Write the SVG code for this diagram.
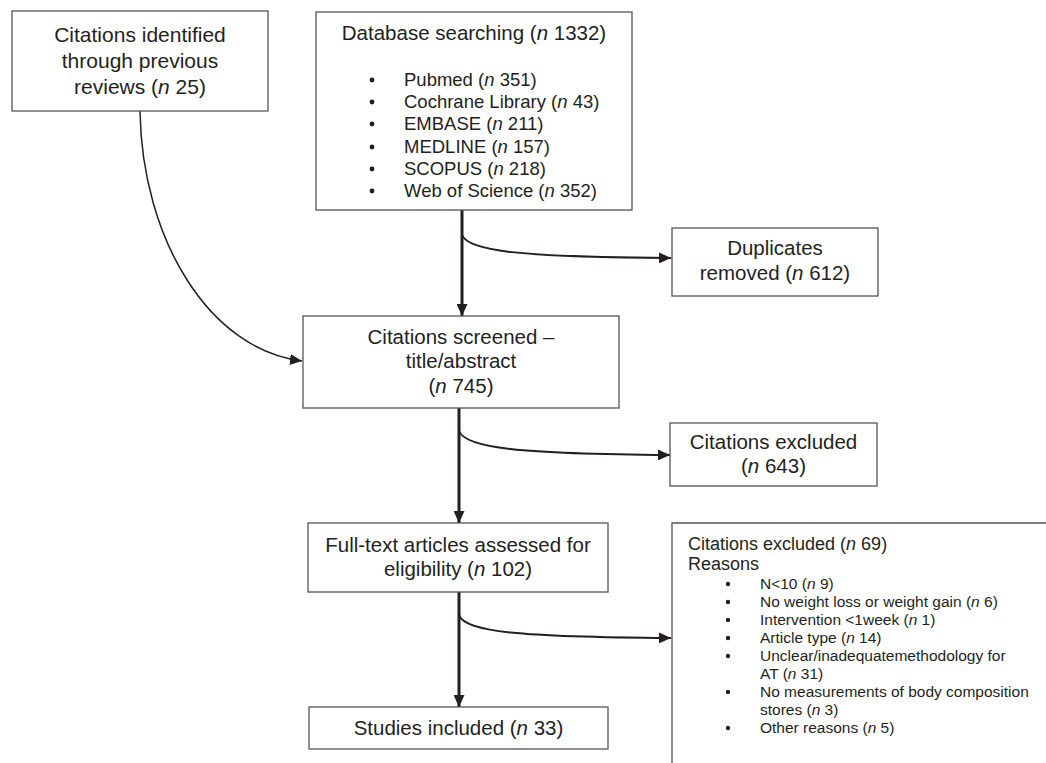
<svg xmlns="http://www.w3.org/2000/svg" width="1046" height="763" viewBox="0 0 1046 763">
<style>
.box{fill:#fff;stroke:#555;stroke-width:1.3}
.t{font-family:"Liberation Sans",Arial,sans-serif;font-size:20.5px;fill:#231f20;text-anchor:middle}
.h{font-family:"Liberation Sans",Arial,sans-serif;font-size:18.5px;fill:#231f20}
.s{font-family:"Liberation Sans",Arial,sans-serif;font-size:15.5px;fill:#231f20}
.i{font-style:italic}
.main{fill:none;stroke:#231f20;stroke-width:3}
.br{fill:none;stroke:#231f20;stroke-width:2}
.thin{fill:none;stroke:#231f20;stroke-width:1.5}
.dot{fill:#231f20}
</style>
<defs>
<marker id="ah" markerUnits="userSpaceOnUse" markerWidth="13" markerHeight="11" refX="12" refY="5.5" orient="auto">
<path d="M0,0 L12,5.5 L0,11 Z" fill="#231f20"/>
</marker>
</defs>
<rect width="1046" height="763" fill="#fff"/>

<g id="connectors">
<path class="thin" d="M140,111 C142,240 210,350 302,361" marker-end="url(#ah)"/>
<path class="main" d="M462,210 V316" marker-end="url(#ah)"/>
<path class="br" d="M462,235 C468,251 520,257 671,258" marker-end="url(#ah)"/>
<path class="main" d="M459,408 V523" marker-end="url(#ah)"/>
<path class="br" d="M459,431 C465,448 520,454 670,455" marker-end="url(#ah)"/>
<path class="main" d="M459,592 V707" marker-end="url(#ah)"/>
<path class="br" d="M459,615 C465,632 520,637 671,638" marker-end="url(#ah)"/>
</g>

<g id="previous">
<rect class="box" x="12" y="11" width="256" height="100"/>
<text class="t" x="140" y="42" style="font-size:21px">Citations identified</text>
<text class="t" x="140" y="68" style="font-size:21px">through previous</text>
<text class="t" x="140" y="94" style="font-size:21px">reviews (<tspan class="i">n</tspan> 25)</text>
</g>

<g id="database">
<rect class="box" x="316" y="12" width="316" height="198"/>
<text class="t" x="474" y="40">Database searching (<tspan class="i">n</tspan> 1332)</text>
<circle class="dot" cx="372" cy="80" r="2.4"/>
<circle class="dot" cx="372" cy="102" r="2.4"/>
<circle class="dot" cx="372" cy="124" r="2.4"/>
<circle class="dot" cx="372" cy="147" r="2.4"/>
<circle class="dot" cx="372" cy="169" r="2.4"/>
<circle class="dot" cx="372" cy="191" r="2.4"/>
<text class="h" x="404" y="86">Pubmed (<tspan class="i">n</tspan> 351)</text>
<text class="h" x="404" y="108">Cochrane Library (<tspan class="i">n</tspan> 43)</text>
<text class="h" x="404" y="130">EMBASE (<tspan class="i">n</tspan> 211)</text>
<text class="h" x="404" y="153">MEDLINE (<tspan class="i">n</tspan> 157)</text>
<text class="h" x="404" y="175">SCOPUS (<tspan class="i">n</tspan> 218)</text>
<text class="h" x="404" y="197">Web of Science (<tspan class="i">n</tspan> 352)</text>
</g>

<g id="duplicates">
<rect class="box" x="672" y="228" width="206" height="68"/>
<text class="t" x="775" y="255">Duplicates</text>
<text class="t" x="775" y="280">removed (<tspan class="i">n</tspan> 612)</text>
</g>

<g id="screened">
<rect class="box" x="303" y="316" width="316" height="92"/>
<text class="t" x="461" y="344">Citations screened –</text>
<text class="t" x="461" y="368">title/abstract</text>
<text class="t" x="461" y="393">(<tspan class="i">n</tspan> 745)</text>
</g>

<g id="excluded1">
<rect class="box" x="670" y="423" width="207" height="63"/>
<text class="t" x="773.5" y="449">Citations excluded</text>
<text class="t" x="773.5" y="473">(<tspan class="i">n</tspan> 643)</text>
</g>

<g id="fulltext">
<rect class="box" x="308" y="523" width="300" height="69"/>
<text class="t" x="458" y="552">Full-text articles assessed for</text>
<text class="t" x="458" y="576">eligibility (<tspan class="i">n</tspan> 102)</text>
</g>

<g id="excluded2">
<path class="box" d="M1046,523 H672 V763" fill="none"/>
<text class="h" x="688" y="550" style="font-size:18px">Citations excluded (<tspan class="i">n</tspan> 69)</text>
<text class="h" x="688" y="570" style="font-size:18px">Reasons</text>
<circle class="dot" cx="728" cy="584" r="2.2"/>
<circle class="dot" cx="728" cy="602" r="2.2"/>
<circle class="dot" cx="728" cy="620" r="2.2"/>
<circle class="dot" cx="728" cy="638" r="2.2"/>
<circle class="dot" cx="728" cy="656" r="2.2"/>
<circle class="dot" cx="728" cy="692" r="2.2"/>
<circle class="dot" cx="728" cy="728" r="2.2"/>
<text class="s" x="760" y="589">N&lt;10 (<tspan class="i">n</tspan> 9)</text>
<text class="s" x="760" y="607">No weight loss or weight gain (<tspan class="i">n</tspan> 6)</text>
<text class="s" x="760" y="625">Intervention &lt;1week (<tspan class="i">n</tspan> 1)</text>
<text class="s" x="760" y="643">Article type (<tspan class="i">n</tspan> 14)</text>
<text class="s" x="760" y="661">Unclear/inadequatemethodology for</text>
<text class="s" x="760" y="679">AT (<tspan class="i">n</tspan> 31)</text>
<text class="s" x="760" y="697">No measurements of body composition</text>
<text class="s" x="760" y="715">stores (<tspan class="i">n</tspan> 3)</text>
<text class="s" x="760" y="733">Other reasons (<tspan class="i">n</tspan> 5)</text>
</g>

<g id="included">
<rect class="box" x="309" y="707" width="299" height="42"/>
<text class="t" x="458.5" y="735">Studies included (<tspan class="i">n</tspan> 33)</text>
</g>
</svg>
